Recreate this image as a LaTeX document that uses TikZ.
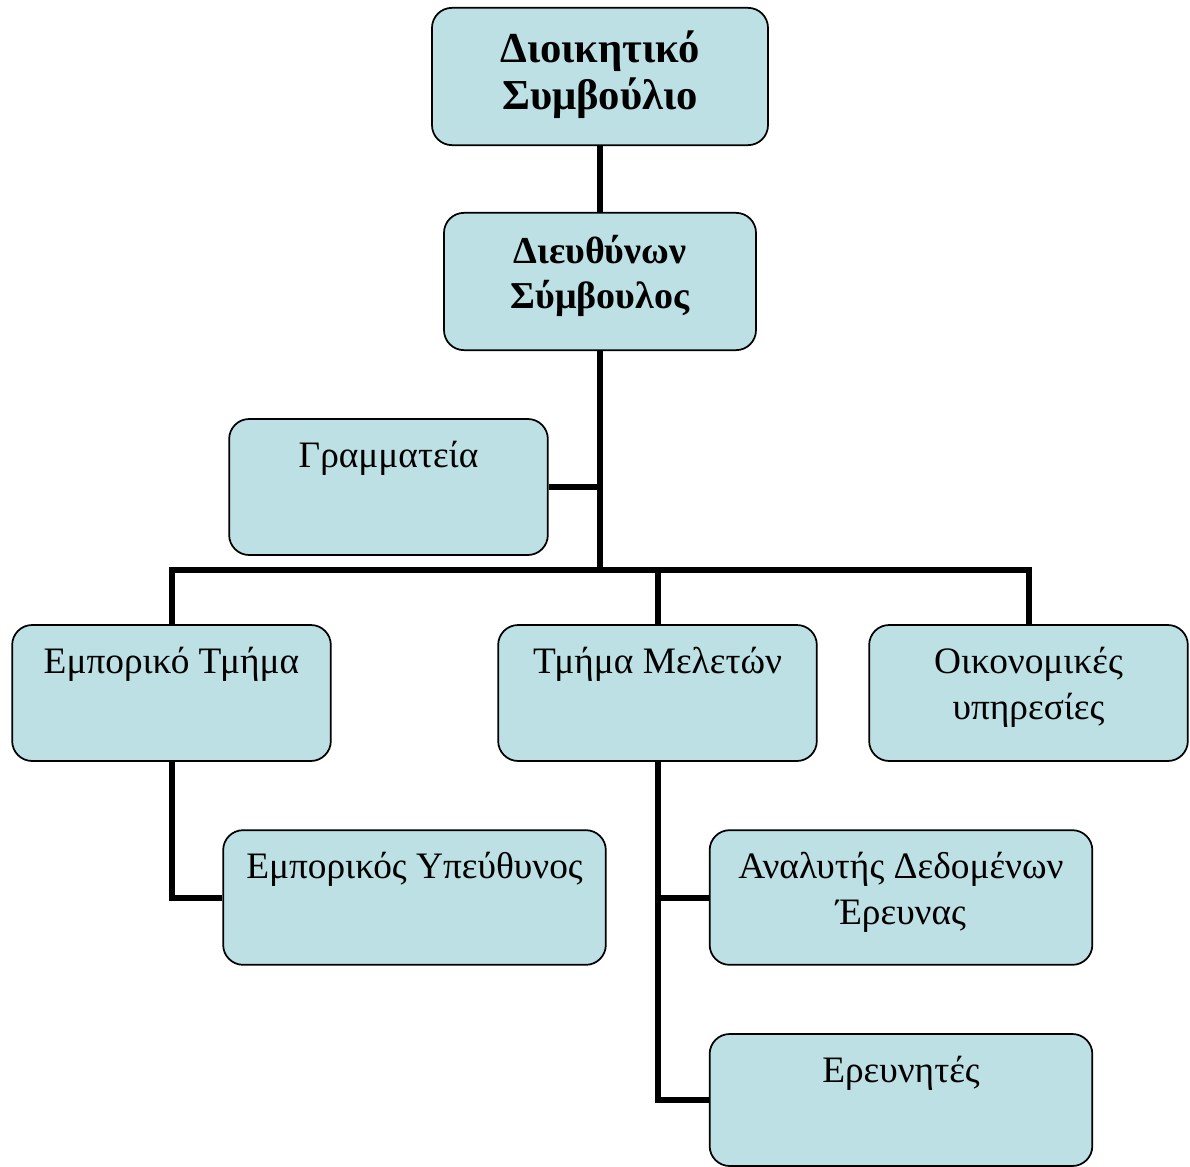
\documentclass[tikz,border=0pt]{standalone}
\usepackage{fontspec}
\setmainfont{Liberation Serif}
\usetikzlibrary{positioning}
\definecolor{boxfill}{RGB}{188,224,228}

\begin{document}
\begin{tikzpicture}[
    x=0.75pt, y=-0.75pt,
    box/.style={draw, line width=1.3pt, rounded corners=15pt, fill=boxfill, inner sep=0pt},
    lbl/.style={anchor=north, yshift=-17pt, align=center, inner sep=0pt,
        font=\fontsize{28}{34.5}\selectfont},
    blbl/.style={lbl, yshift=-1pt, font=\fontsize{32}{35}\selectfont\bfseries},
    slbl/.style={lbl, font=\fontsize{28.5}{34}\selectfont\bfseries},
    wire/.style={line width=4.5pt}
]
\useasboundingbox (0,0) rectangle (1190,1167);

% διοίκηση
\node[box, minimum width=252pt, minimum height=103pt,
      label={[blbl]north:Διοικητικό\\Συμβούλιο}] (board) at (600,76.5) {};
\node[box, minimum width=234pt, minimum height=103pt,
      label={[slbl]north:Διευθύνων\\Σύμβουλος}] (ceo) at (600,281.5) {};
\node[box, minimum width=239pt, minimum height=102pt,
      label={[lbl]north:Γραμματεία}] (gram) at (388.5,487) {};

% τμήματα
\node[box, minimum width=239pt, minimum height=102pt,
      label={[lbl]north:Εμπορικό Τμήμα}] (sales) at (171.5,693) {};
\node[box, minimum width=239pt, minimum height=102pt,
      label={[lbl]north:Τμήμα Μελετών}] (study) at (657.5,693) {};
\node[box, minimum width=239pt, minimum height=102pt,
      label={[lbl]north:Οικονομικές\\υπηρεσίες}] (fin) at (1028.5,693) {};

% προσωπικό
\node[box, minimum width=287pt, minimum height=101pt,
      label={[lbl]north:Εμπορικός Υπεύθυνος}] (salesmgr) at (414.5,897.5) {};
\node[box, minimum width=287pt, minimum height=101pt,
      label={[lbl]north:Αναλυτής Δεδομένων\\Έρευνας}] (analyst) at (901,897.5) {};
\node[box, minimum width=287pt, minimum height=99pt,
      label={[lbl]north:Ερευνητές}] (resch) at (901,1100) {};

% συνδέσεις
\coordinate (bar) at (600,570);
\draw[wire] (board) -- (ceo);
\draw[wire] (ceo) -- (bar);
\draw[wire] (gram.east) -- (gram.east -| bar);
\draw[wire] (sales.north) |- (bar) -| (fin.north);
\draw[wire] (study.north) -- (study.north |- bar);
\draw[wire] (sales.south) |- (salesmgr.west);
\draw[wire] (study.south) |- (resch.west);
\draw[wire] (study.south |- analyst.west) -- (analyst.west);
\end{tikzpicture}
\end{document}
